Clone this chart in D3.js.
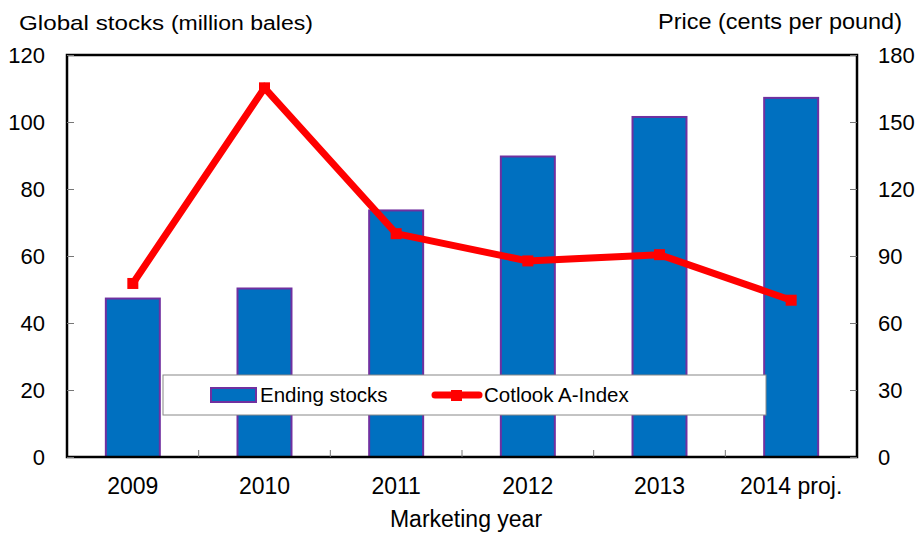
<!DOCTYPE html>
<html>
<head>
<meta charset="utf-8">
<script src="https://cdn.jsdelivr.net/npm/d3@7"></script>
<style>
  html, body { margin: 0; padding: 0; background: #fff; }
  svg { display: block; font-family: "Liberation Sans", Arial, sans-serif; }
</style>
</head>
<body>
<svg id="chart" width="923" height="538"></svg>
<script>
const years = ['2009', '2010', '2011', '2012', '2013', '2014 proj.'];
const endingStocks = [47.3, 50.3, 73.6, 89.7, 101.5, 107.2];
const cotlookIndex = [77.7, 165.3, 100, 87.8, 90.6, 70.2];
const leftTicks = [0, 20, 40, 60, 80, 100, 120];
const rightTicks = [0, 30, 60, 90, 120, 150, 180];

const svg = d3.select('#chart');
const m = { left: 67, right: 857, top: 55, bottom: 457 };

const x = d3.scaleBand().domain(years).range([m.left, m.right]);
const yL = d3.scaleLinear().domain([0, 120]).range([m.bottom, m.top]);
const yR = d3.scaleLinear().domain([0, 180]).range([m.bottom, m.top]);

// bars
const bw = x.bandwidth() * 0.41;
svg.append('g').selectAll('rect')
  .data(years)
  .join('rect')
  .attr('x', (d) => x(d) + x.bandwidth() / 2 - bw / 2)
  .attr('y', (d, i) => yL(endingStocks[i]))
  .attr('width', bw)
  .attr('height', (d, i) => yL(0) - yL(endingStocks[i]))
  .attr('fill', '#0070C0')
  .attr('stroke', '#7030A0')
  .attr('stroke-width', 2);

// frame
svg.append('rect')
  .attr('x', m.left).attr('y', m.top)
  .attr('width', m.right - m.left).attr('height', m.bottom - m.top)
  .attr('fill', 'none').attr('stroke', '#000').attr('stroke-width', 2.5);

// left axis (ticks inward)
const axL = svg.append('g').attr('transform', `translate(${m.left},0)`)
  .call(d3.axisRight(yL).tickValues(leftTicks).tickSize(7).tickFormat(''));
axL.select('.domain').remove();
axL.selectAll('line').attr('stroke', '#777');
svg.append('g').selectAll('text')
  .data(leftTicks)
  .join('text')
  .attr('x', 45).attr('y', (d) => yL(d))
  .attr('dy', '0.36em')
  .attr('text-anchor', 'end')
  .attr('font-size', 22)
  .text((d) => d);

// right axis (ticks inward)
const axR = svg.append('g').attr('transform', `translate(${m.right},0)`)
  .call(d3.axisLeft(yR).tickValues(rightTicks).tickSize(7).tickFormat(''));
axR.select('.domain').remove();
axR.selectAll('line').attr('stroke', '#777');
svg.append('g').selectAll('text')
  .data(rightTicks)
  .join('text')
  .attr('x', 878).attr('y', (d) => yR(d))
  .attr('dy', '0.36em')
  .attr('text-anchor', 'start')
  .attr('font-size', 22)
  .text((d) => d);

// category boundary ticks on the x axis
svg.append('g').selectAll('line')
  .data(years.slice(1))
  .join('line')
  .attr('x1', (d) => x(d)).attr('x2', (d) => x(d))
  .attr('y1', m.bottom).attr('y2', m.bottom - 7)
  .attr('stroke', '#777');

svg.append('g').selectAll('text')
  .data(years)
  .join('text')
  .attr('x', (d) => x(d) + x.bandwidth() / 2)
  .attr('y', 494)
  .attr('text-anchor', 'middle')
  .attr('font-size', 23)
  .text((d) => d);

// line
const line = d3.line()
  .x((d, i) => x(years[i]) + x.bandwidth() / 2)
  .y((d) => yR(d));
svg.append('path')
  .datum(cotlookIndex)
  .attr('d', line)
  .attr('fill', 'none')
  .attr('stroke', '#FF0000')
  .attr('stroke-width', 7)
  .attr('stroke-linejoin', 'miter');
svg.append('g').selectAll('rect')
  .data(cotlookIndex)
  .join('rect')
  .attr('x', (d, i) => x(years[i]) + x.bandwidth() / 2 - 5.5)
  .attr('y', (d) => yR(d) - 5.5)
  .attr('width', 11).attr('height', 11)
  .attr('fill', '#FF0000');

// legend
const lg = svg.append('g');
lg.append('rect')
  .attr('x', 163).attr('y', 375).attr('width', 603).attr('height', 40)
  .attr('fill', '#fff').attr('stroke', '#888').attr('stroke-width', 1);
lg.append('rect')
  .attr('x', 211).attr('y', 388).attr('width', 45).attr('height', 14)
  .attr('fill', '#0070C0').attr('stroke', '#7030A0').attr('stroke-width', 2);
lg.append('text')
  .attr('x', 260).attr('y', 395).attr('dy', '0.36em')
  .attr('font-size', 20.5).text('Ending stocks');
lg.append('line')
  .attr('x1', 435).attr('x2', 479).attr('y1', 395).attr('y2', 395)
  .attr('stroke', '#FF0000').attr('stroke-width', 7).attr('stroke-linecap', 'round');
lg.append('rect')
  .attr('x', 451).attr('y', 390).attr('width', 11).attr('height', 11)
  .attr('fill', '#FF0000');
lg.append('text')
  .attr('x', 484).attr('y', 395).attr('dy', '0.36em')
  .attr('font-size', 20.5).text('Cotlook A-Index');

// axis titles
const lt = svg.append('text').attr('x', 19).attr('y', 30)
  .attr('font-size', 21)
  .attr('textLength', 294).attr('lengthAdjust', 'spacingAndGlyphs');
lt.append('tspan').text('Global stocks ');
lt.append('tspan').attr('font-size', 20).text('(million bales)');

svg.append('text')
  .attr('x', 658).attr('y', 29)
  .attr('font-size', 22)
  .attr('textLength', 244).attr('lengthAdjust', 'spacingAndGlyphs')
  .text('Price (cents per pound)');

svg.append('text')
  .attr('x', 466).attr('y', 527)
  .attr('text-anchor', 'middle')
  .attr('font-size', 23)
  .text('Marketing year');
</script>
</body>
</html>
